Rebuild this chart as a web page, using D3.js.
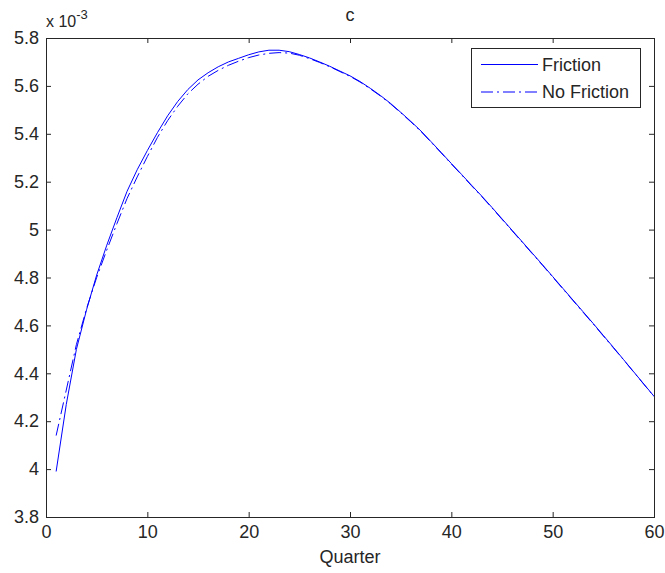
<!DOCTYPE html>
<html>
<head>
<meta charset="utf-8">
<script src="https://cdn.jsdelivr.net/npm/d3@7"></script>
<style>
  html, body { margin: 0; padding: 0; background: #fff; }
  svg text { font-family: "Liberation Sans", Arial, Helvetica, sans-serif; fill: #262626; }
</style>
</head>
<body>
<svg id="chart" width="665" height="573"></svg>
<script>
// Consumption response c (in units of 1e-3) by quarter
const quarters = d3.range(1, 61);
const friction = [
  3.99, 4.27, 4.50, 4.665, 4.81, 4.935, 5.05, 5.16, 5.25, 5.33,
  5.405, 5.475, 5.535, 5.585, 5.625, 5.655, 5.68, 5.70, 5.715, 5.73,
  5.742, 5.749, 5.749, 5.743, 5.731, 5.717, 5.700, 5.682, 5.662, 5.642,
  5.618, 5.590, 5.560, 5.527, 5.490, 5.452, 5.412, 5.367, 5.322, 5.276,
  5.231, 5.185, 5.140, 5.093, 5.045, 4.997, 4.949, 4.901, 4.853, 4.804,
  4.755, 4.706, 4.657, 4.608, 4.558, 4.508, 4.457, 4.406, 4.355, 4.304
];
const noFriction = [
  4.14, 4.33, 4.52, 4.67, 4.80, 4.915, 5.025, 5.13, 5.22, 5.305,
  5.385, 5.455, 5.515, 5.567, 5.607, 5.640, 5.665, 5.686, 5.703, 5.718,
  5.729, 5.736, 5.739, 5.737, 5.728, 5.714, 5.698, 5.680, 5.660, 5.640,
  5.616, 5.588, 5.558, 5.525, 5.488, 5.450, 5.410, 5.365, 5.320, 5.274,
  5.229, 5.183, 5.138, 5.091, 5.043, 4.995, 4.947, 4.899, 4.851, 4.802,
  4.753, 4.704, 4.655, 4.606, 4.556, 4.506, 4.456, 4.405, 4.354, 4.303
];
const seriesNames = ["Friction", "No Friction"];
const xTicks = [0, 10, 20, 30, 40, 50, 60];
const yTicks = [3.8, 4.0, 4.2, 4.4, 4.6, 4.8, 5.0, 5.2, 5.4, 5.6, 5.8];

const svg = d3.select("#chart");
const m = { left: 46, right: 654, top: 38, bottom: 517 };
const axisColor = "#262626";
const lineColor = "#0000ff";
const fontSize = 18;

const x = d3.scaleLinear().domain([0, 60]).range([m.left, m.right]);
const y = d3.scaleLinear().domain([3.8, 5.8]).range([m.bottom, m.top]);

// Plot background
svg.append("rect")
  .attr("x", m.left).attr("y", m.top)
  .attr("width", m.right - m.left).attr("height", m.bottom - m.top)
  .attr("fill", "#fff");

// Series lines
const line = d3.line().x((d, i) => x(quarters[i])).y(d => y(d));
svg.append("path").datum(friction)
  .attr("d", line).attr("fill", "none")
  .attr("stroke", lineColor).attr("stroke-width", 1);
svg.append("path").datum(noFriction)
  .attr("d", line).attr("fill", "none")
  .attr("stroke", lineColor).attr("stroke-width", 1)
  .attr("stroke-dasharray", "12,4,2,4");

// Axes with inward ticks
const tickLen = 5;
const bottomAxis = d3.axisBottom(x).tickValues(xTicks).tickSizeInner(-tickLen).tickSizeOuter(0).tickPadding(8).tickFormat(d3.format("d"));
const topAxis = d3.axisTop(x).tickValues(xTicks).tickSizeInner(-tickLen).tickSizeOuter(0).tickFormat("");
const leftAxis = d3.axisLeft(y).tickValues(yTicks).tickSizeInner(-tickLen).tickSizeOuter(0).tickPadding(7).tickFormat(d => d3.format("")(+d.toFixed(1)));
const rightAxis = d3.axisRight(y).tickValues(yTicks).tickSizeInner(-tickLen).tickSizeOuter(0).tickFormat("");

function styleAxis(g) {
  g.select(".domain").remove();
  g.selectAll(".tick line").attr("stroke", axisColor);
  g.selectAll(".tick text").attr("font-size", fontSize).attr("font-family", null).attr("fill", axisColor);
}
svg.append("g").attr("transform", `translate(0,${m.bottom})`).call(bottomAxis).call(styleAxis);
svg.append("g").attr("transform", `translate(0,${m.top})`).call(topAxis).call(styleAxis);
svg.append("g").attr("transform", `translate(${m.left},0)`).call(leftAxis).call(styleAxis);
svg.append("g").attr("transform", `translate(${m.right},0)`).call(rightAxis).call(styleAxis);

// Axes box
svg.append("rect")
  .attr("x", m.left + 0.5).attr("y", m.top + 0.5)
  .attr("width", m.right - m.left).attr("height", m.bottom - m.top)
  .attr("fill", "none").attr("stroke", axisColor).attr("stroke-width", 1);

// Exponent label
const expo = svg.append("text").attr("x", m.left).attr("y", 27).attr("font-size", 16);
expo.append("tspan").text("x 10");
expo.append("tspan").attr("dy", -8).attr("font-size", 13).text("-3");

// Title and x label
svg.append("text").attr("x", (m.left + m.right) / 2).attr("y", 21)
  .attr("text-anchor", "middle").attr("font-size", fontSize).text("c");
svg.append("text").attr("x", (m.left + m.right) / 2).attr("y", 563)
  .attr("text-anchor", "middle").attr("font-size", fontSize).text("Quarter");

// Legend
const lg = svg.append("g");
lg.append("rect").attr("x", 471.5).attr("y", 48.5).attr("width", 169).attr("height", 59)
  .attr("fill", "#fff").attr("stroke", axisColor).attr("stroke-width", 1);
const legendDash = [null, "12,4,2,4"];
seriesNames.forEach((name, i) => {
  const ly = 64.5 + i * 27.5;
  lg.append("line").attr("x1", 481).attr("x2", 538).attr("y1", ly).attr("y2", ly)
    .attr("stroke", lineColor).attr("stroke-width", 1)
    .attr("stroke-dasharray", legendDash[i]);
  lg.append("text").attr("x", 542).attr("y", ly + 6).attr("font-size", fontSize).text(name);
});
</script>
</body>
</html>
